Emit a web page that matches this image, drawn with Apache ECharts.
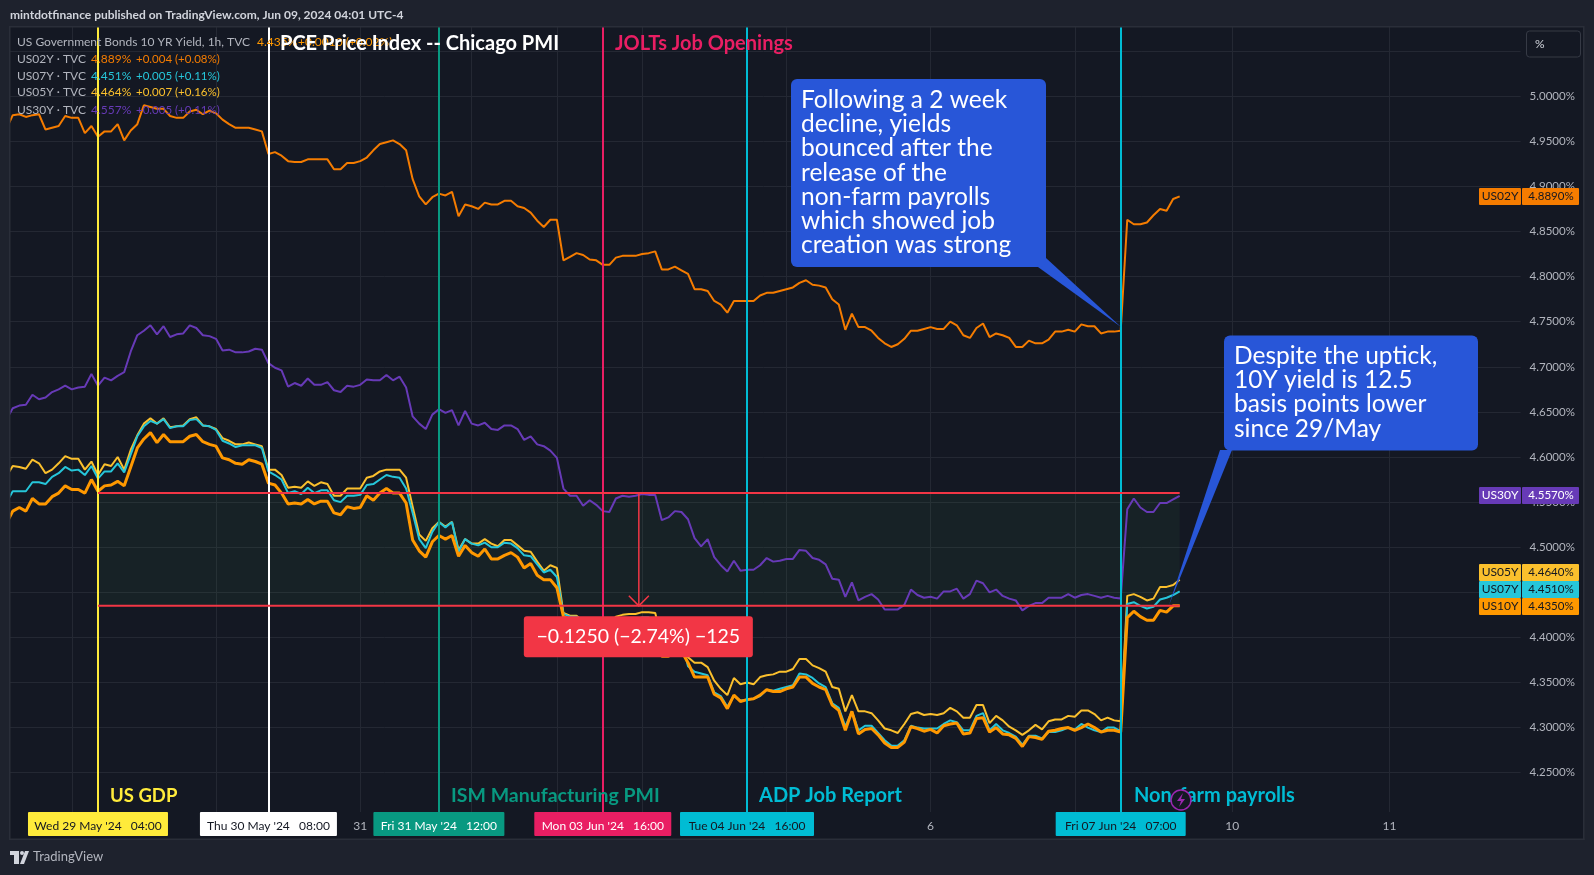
<!DOCTYPE html>
<html>
<head>
<meta charset="utf-8">
<title>US yields</title>
<script src="https://cdn.jsdelivr.net/npm/echarts@6/dist/echarts.min.js"></script>
<style>
  html, body { margin: 0; padding: 0; background: #1e222d; }
  #chart { width: 1594px; height: 875px; }
</style>
</head>
<body>
<div id="chart"></div>
<script>
// hourly closes, one value per bar
const us02y = [
  4.963,4.979,4.980,4.977,4.979,4.980,4.963,4.965,4.967,4.978,
  4.976,4.976,4.959,4.967,4.955,4.961,4.961,4.969,4.951,4.962,
  4.969,4.990,4.988,4.986,4.986,4.978,4.976,4.976,4.983,4.985,
  4.980,4.984,4.981,4.974,4.969,4.965,4.965,4.965,4.963,4.961,
  4.936,4.938,4.934,4.928,4.927,4.927,4.930,4.930,4.930,4.930,
  4.919,4.919,4.926,4.926,4.928,4.932,4.940,4.947,4.949,4.951,
  4.947,4.940,4.908,4.889,4.880,4.888,4.892,4.890,4.894,4.867,
  4.880,4.878,4.875,4.882,4.880,4.880,4.884,4.884,4.878,4.876,
  4.871,4.862,4.855,4.863,4.863,4.818,4.822,4.826,4.824,4.819,
  4.818,4.813,4.813,4.821,4.823,4.823,4.823,4.825,4.826,4.828,
  4.808,4.808,4.811,4.807,4.803,4.786,4.786,4.784,4.773,4.769,
  4.760,4.773,4.773,4.773,4.773,4.779,4.782,4.782,4.784,4.786,
  4.788,4.793,4.796,4.791,4.790,4.788,4.775,4.769,4.741,4.759,
  4.744,4.744,4.740,4.732,4.726,4.722,4.725,4.731,4.740,4.740,
  4.742,4.744,4.742,4.742,4.750,4.746,4.735,4.732,4.743,4.748,
  4.733,4.737,4.735,4.732,4.722,4.722,4.729,4.726,4.726,4.730,
  4.739,4.739,4.741,4.739,4.747,4.745,4.745,4.737,4.739,4.739,
  4.740,4.863,4.858,4.858,4.860,4.868,4.875,4.873,4.886,4.889
];
const us30y = [
  4.641,4.654,4.657,4.658,4.669,4.664,4.666,4.672,4.675,4.679,
  4.675,4.677,4.678,4.692,4.679,4.688,4.685,4.690,4.694,4.717,
  4.735,4.740,4.746,4.736,4.745,4.733,4.736,4.737,4.746,4.743,
  4.735,4.734,4.731,4.718,4.719,4.716,4.716,4.717,4.720,4.719,
  4.704,4.699,4.696,4.678,4.682,4.679,4.687,4.680,4.680,4.683,
  4.674,4.672,4.679,4.678,4.680,4.686,4.685,4.685,4.691,4.685,
  4.689,4.677,4.645,4.637,4.631,4.647,4.653,4.649,4.652,4.635,
  4.651,4.637,4.635,4.638,4.631,4.630,4.635,4.635,4.631,4.619,
  4.623,4.614,4.612,4.607,4.599,4.565,4.557,4.557,4.546,4.552,
  4.547,4.540,4.539,4.554,4.557,4.556,4.557,4.559,4.558,4.558,
  4.530,4.533,4.540,4.539,4.531,4.510,4.501,4.509,4.489,4.480,
  4.473,4.485,4.474,4.475,4.475,4.480,4.488,4.484,4.485,4.487,
  4.487,4.497,4.496,4.488,4.486,4.481,4.465,4.464,4.445,4.461,
  4.441,4.445,4.448,4.442,4.431,4.431,4.431,4.436,4.453,4.447,
  4.444,4.445,4.443,4.451,4.451,4.454,4.443,4.448,4.463,4.460,
  4.450,4.453,4.446,4.443,4.441,4.430,4.435,4.438,4.438,4.444,
  4.444,4.444,4.448,4.444,4.447,4.448,4.446,4.444,4.446,4.444,
  4.443,4.542,4.554,4.544,4.539,4.539,4.549,4.549,4.553,4.557
];
const us05y = [
  4.578,4.590,4.589,4.587,4.597,4.593,4.582,4.586,4.593,4.601,
  4.598,4.598,4.586,4.595,4.580,4.592,4.590,4.600,4.586,4.608,
  4.624,4.637,4.643,4.637,4.643,4.633,4.634,4.635,4.642,4.644,
  4.635,4.634,4.631,4.621,4.618,4.614,4.614,4.616,4.614,4.612,
  4.586,4.586,4.580,4.566,4.567,4.566,4.573,4.568,4.572,4.570,
  4.557,4.557,4.565,4.565,4.565,4.577,4.579,4.584,4.586,4.586,
  4.586,4.577,4.545,4.514,4.507,4.521,4.528,4.523,4.528,4.497,
  4.509,4.504,4.504,4.509,4.504,4.501,4.508,4.508,4.502,4.496,
  4.495,4.484,4.474,4.480,4.477,4.427,4.424,4.424,4.418,4.416,
  4.416,4.413,4.414,4.423,4.425,4.426,4.426,4.428,4.428,4.427,
  4.398,4.400,4.407,4.405,4.378,4.372,4.372,4.367,4.352,4.343,
  4.336,4.355,4.348,4.350,4.348,4.356,4.358,4.359,4.362,4.362,
  4.365,4.376,4.376,4.369,4.366,4.362,4.345,4.343,4.318,4.336,
  4.318,4.318,4.316,4.308,4.299,4.297,4.294,4.304,4.315,4.317,
  4.314,4.315,4.314,4.316,4.322,4.318,4.311,4.311,4.325,4.325,
  4.305,4.313,4.308,4.301,4.297,4.292,4.297,4.303,4.298,4.307,
  4.309,4.309,4.313,4.312,4.319,4.319,4.315,4.308,4.311,4.308,
  4.307,4.446,4.448,4.445,4.441,4.443,4.456,4.456,4.458,4.464
];
const us07y = [
  4.549,4.562,4.562,4.562,4.572,4.572,4.570,4.578,4.582,4.589,
  4.585,4.586,4.580,4.590,4.576,4.584,4.584,4.593,4.583,4.603,
  4.623,4.634,4.640,4.637,4.642,4.632,4.634,4.634,4.641,4.642,
  4.635,4.634,4.630,4.618,4.615,4.611,4.613,4.613,4.613,4.610,
  4.584,4.580,4.575,4.560,4.562,4.559,4.566,4.560,4.563,4.563,
  4.552,4.550,4.557,4.557,4.558,4.569,4.570,4.575,4.580,4.578,
  4.577,4.565,4.538,4.509,4.499,4.517,4.528,4.522,4.528,4.495,
  4.509,4.504,4.502,4.505,4.500,4.500,4.505,4.504,4.499,4.491,
  4.490,4.481,4.472,4.475,4.467,4.426,4.423,4.423,4.414,4.412,
  4.412,4.410,4.411,4.417,4.419,4.420,4.420,4.422,4.422,4.419,
  4.392,4.394,4.400,4.398,4.368,4.362,4.360,4.358,4.339,4.335,
  4.323,4.335,4.330,4.331,4.332,4.335,4.342,4.341,4.343,4.345,
  4.347,4.360,4.359,4.355,4.349,4.345,4.327,4.322,4.301,4.318,
  4.297,4.302,4.302,4.294,4.286,4.280,4.280,4.286,4.302,4.300,
  4.299,4.299,4.299,4.304,4.308,4.306,4.297,4.297,4.313,4.316,
  4.297,4.304,4.297,4.294,4.290,4.281,4.291,4.291,4.288,4.295,
  4.295,4.297,4.300,4.298,4.304,4.300,4.297,4.295,4.300,4.300,
  4.296,4.437,4.439,4.435,4.432,4.434,4.442,4.444,4.447,4.451
];
const us10y = [
  4.526,4.540,4.544,4.540,4.554,4.548,4.548,4.556,4.560,4.568,
  4.564,4.564,4.560,4.575,4.562,4.568,4.569,4.573,4.568,4.589,
  4.610,4.620,4.627,4.616,4.625,4.617,4.617,4.617,4.623,4.625,
  4.617,4.614,4.612,4.599,4.597,4.593,4.592,4.597,4.595,4.592,
  4.571,4.569,4.560,4.548,4.549,4.548,4.553,4.548,4.551,4.551,
  4.538,4.536,4.545,4.543,4.544,4.557,4.552,4.560,4.565,4.560,
  4.560,4.549,4.508,4.496,4.489,4.506,4.513,4.509,4.513,4.490,
  4.502,4.494,4.490,4.498,4.487,4.487,4.491,4.494,4.489,4.477,
  4.482,4.469,4.464,4.464,4.455,4.423,4.420,4.418,4.408,4.405,
  4.405,4.402,4.403,4.406,4.408,4.410,4.409,4.411,4.411,4.408,
  4.379,4.379,4.385,4.385,4.372,4.356,4.356,4.356,4.337,4.333,
  4.321,4.336,4.329,4.331,4.332,4.336,4.342,4.340,4.340,4.343,
  4.345,4.356,4.356,4.349,4.345,4.342,4.325,4.319,4.297,4.318,
  4.293,4.298,4.299,4.292,4.283,4.278,4.278,4.284,4.301,4.299,
  4.296,4.298,4.294,4.302,4.304,4.305,4.293,4.294,4.310,4.311,
  4.295,4.300,4.293,4.292,4.288,4.279,4.290,4.289,4.287,4.296,
  4.297,4.299,4.300,4.297,4.300,4.304,4.300,4.295,4.297,4.297,
  4.295,4.422,4.429,4.423,4.419,4.419,4.430,4.428,4.435,4.435
];

// time axis: day ticks sit on these bars
const dayTickBars = [10, 32, 54, 71, 84, 97, 119, 141, 163, 187, 211];
const dayTickLabels = ['29', '30', '31', '', 'Jun', '4', '5', '6', '7', '10', '11'];

// news events
const eventBars = [14, 40, 66, 91, 113, 170];
const eventDates = ["Wed 29 May '24   04:00", "Thu 30 May '24   08:00", "Fri 31 May '24   12:00",
                    "Mon 03 Jun '24   16:00", "Tue 04 Jun '24   16:00", "Fri 07 Jun '24   07:00"];
const eventColors = ['#ffeb3b', '#ffffff', '#089981', '#e91e63', '#00bcd4', '#00bcd4'];
const eventTextColors = ['#131722', '#131722', '#ffffff', '#ffffff', '#131722', '#131722'];
const eventTagWidths = [140, 137, 131, 137, 134, 130];

// date range measure on the 10Y
const measureFrom = 14, measureTo = 179, measureHigh = 4.56, measureLow = 4.435;

const barCount = 232;
const categories = Array.from({ length: barCount }, (_, i) => String(i));

const FONT = 'Lato, "Open Sans", sans-serif';
const PLOT_BG = '#141823';
const PAGE_BG = '#1e222d';
const GRID = '#242833';
const RED = '#f23645';
const BLUE = '#2856d8';

function lineSeries(name, data, color, width, z) {
  return {
    name: name, type: 'line', data: data, z: z,
    showSymbol: false, silent: true,
    lineStyle: { color: color, width: width }
  };
}

const chart = echarts.init(document.getElementById('chart'), null, { renderer: 'canvas' });

const option = {
  animation: false,
  backgroundColor: PLOT_BG,
  textStyle: { fontFamily: FONT },
  grid: { left: 6.2, top: 6, width: 1514.4, height: 811.8, containLabel: false },
  xAxis: [
    {
      // split lines only
      type: 'category', data: categories, boundaryGap: false,
      axisLine: { show: false }, axisTick: { show: false }, axisLabel: { show: false },
      splitLine: {
        show: true,
        interval: idx => dayTickBars.includes(idx),
        lineStyle: { color: GRID, width: 1 }
      }
    },
    {
      // day labels, raised above the time band
      type: 'category', data: categories, boundaryGap: false, position: 'bottom', z: 25,
      axisLine: { show: false }, axisTick: { show: false }, splitLine: { show: false },
      axisLabel: {
        interval: idx => dayTickBars.includes(idx),
        formatter: (val, idx) => dayTickLabels[dayTickBars.indexOf(idx)] || '',
        color: '#b2b5be', fontSize: 12, margin: 2, fontFamily: FONT
      }
    }
  ],
  yAxis: {
    type: 'value', position: 'right', min: 4.2, max: 5.1, interval: 0.05,
    axisLine: { show: false }, axisTick: { show: false },
    splitLine: { lineStyle: { color: GRID, width: 1 } },
    axisLabel: {
      color: '#b2b5be', fontSize: 11.5, margin: 9, fontFamily: FONT,
      formatter: v => (v > 5.01 || v < 4.24) ? '' : v.toFixed(4) + '%'
    }
  },
  series: [
    {
      // shaded range of the measure
      type: 'custom', z: 1, silent: true, clip: true,
      encode: { x: [0, 1], y: [2, 3] },
      data: [[measureFrom, measureTo, measureHigh, measureLow]],
      renderItem: (params, api) => {
        const a = api.coord([api.value(0), api.value(2)]);
        const b = api.coord([api.value(1), api.value(3)]);
        return { type: 'rect', shape: { x: a[0], y: a[1], width: b[0] - a[0], height: b[1] - a[1] },
                 style: { fill: 'rgba(76,175,80,0.07)' } };
      }
    },
    lineSeries('US02Y', us02y, '#f57c00', 2, 2),
    lineSeries('US30Y', us30y, '#673ab7', 2, 2),
    lineSeries('US05Y', us05y, '#fbc02d', 2, 2),
    lineSeries('US07Y', us07y, '#26c6da', 2, 2),
    lineSeries('US10Y', us10y, '#ff9800', 3, 2),
    {
      // event lines
      name: 'events', type: 'line', data: [], z: 3,
      markLine: {
        silent: true, animation: false, symbol: 'none', label: { show: false },
        data: eventBars.map((bar, i) => ({ xAxis: bar, lineStyle: { color: eventColors[i], width: 2, type: 'solid', opacity: 1 } }))
      }
    },
    {
      // measure lines, arrow and its value box
      type: 'custom', z: 5, silent: true, clip: false,
      encode: { x: [0, 1], y: [2, 3] },
      data: [[measureFrom, measureTo, measureHigh, measureLow]],
      renderItem: (params, api) => {
        const a = api.coord([api.value(0), api.value(2)]);
        const b = api.coord([api.value(1), api.value(3)]);
        const mid = (a[0] + b[0]) / 2;
        const red = { stroke: RED, lineWidth: 2, fill: null };
        const thin = { stroke: RED, lineWidth: 1.5, fill: null };
        return {
          type: 'group',
          children: [
            { type: 'line', shape: { x1: a[0], y1: a[1], x2: b[0], y2: a[1] }, style: red },
            { type: 'line', shape: { x1: a[0], y1: b[1], x2: b[0], y2: b[1] }, style: red },
            { type: 'line', shape: { x1: mid, y1: a[1], x2: mid, y2: b[1] }, style: thin },
            { type: 'polyline', shape: { points: [[mid - 10, b[1] - 10], [mid, b[1]], [mid + 10, b[1] - 10]] }, style: thin },
            { type: 'rect', shape: { x: mid - 115, y: b[1] + 10.5, width: 229, height: 41, r: 3 }, style: { fill: RED } },
            { type: 'text', x: mid - 0.5, y: b[1] + 31,
              style: { text: '\u22120.1250 (\u22122.74%) \u2212125', fill: '#fff', fontSize: 19.5, fontFamily: FONT, align: 'center', verticalAlign: 'middle' } }
          ]
        };
      }
    }
  ]
};
chart.setOption(option);

// everything printed on top of the plot
const g = [];
function rect(x, y, w, h, fill, z, r) {
  g.push({ type: 'rect', z: z, silent: true, shape: { x: x, y: y, width: w, height: h, r: r || 0 }, style: { fill: fill } });
}
function text(str, x, y, color, size, z, extra) {
  g.push({ type: 'text', z: z, silent: true, x: x, y: y,
    style: Object.assign({ text: str, fill: color, fontSize: size, fontFamily: FONT, verticalAlign: 'middle' }, extra || {}) });
}

// frame around the plot
rect(0, 0, 1594, 27, PAGE_BG, 20);
rect(0, 839, 1594, 36, PAGE_BG, 20);
rect(0, 0, 10, 875, PAGE_BG, 20);
rect(1584, 0, 10, 875, PAGE_BG, 20);
rect(10, 812, 1574, 27, PLOT_BG, 20);
rect(10, 26, 1574, 1.5, '#2a2e39', 21);
rect(9, 26, 1.5, 814, '#2a2e39', 21);
rect(1583, 26, 1.5, 814, '#2a2e39', 21);
rect(9, 838.5, 1575.5, 1.5, '#2a2e39', 21);

text('mintdotfinance published on TradingView.com, Jun 09, 2024 04:01 UTC-4', 10, 15, '#d1d4dc', 12, 22, { fontWeight: 'bold' });

// footer logo
g.push({ type: 'polygon', z: 22, silent: true, shape: { points: [[10, 851], [19, 851], [19, 864], [14, 864], [14, 855], [10, 855]] }, style: { fill: '#d1d4dc' } });
g.push({ type: 'circle', z: 22, silent: true, shape: { cx: 22, cy: 853, r: 2 }, style: { fill: '#d1d4dc' } });
g.push({ type: 'polygon', z: 22, silent: true, shape: { points: [[25, 851], [29, 851], [24, 864], [20, 864]] }, style: { fill: '#d1d4dc' } });
text('TradingView', 33, 857, '#b2b5be', 13, 22);

// legend block
const LG = '#b2b5be';
text('US Government Bonds 10 YR Yield, 1h, TVC', 17, 42, LG, 12, 23);
text('4.435%', 257, 42, '#ff9800', 12, 23);
text('+0.0010 (+0.02%)', 298, 42, '#ff9800', 12, 23);
[['US02Y \u00b7 TVC', '4.889%', '+0.004 (+0.08%)', '#f57c00', 59],
 ['US07Y \u00b7 TVC', '4.451%', '+0.005 (+0.11%)', '#26c6da', 76],
 ['US05Y \u00b7 TVC', '4.464%', '+0.007 (+0.16%)', '#fbc02d', 92.5],
 ['US30Y \u00b7 TVC', '4.557%', '+0.005 (+0.11%)', '#673ab7', 110]].forEach(r => {
  text(r[0], 17, r[4], LG, 12, 23);
  text(r[1], 91, r[4], r[3], 12, 23);
  text(r[2], 136, r[4], r[3], 11.5, 23);
});

// event titles
const titleStyle = { fontWeight: 'bold' };
text('PCE Price Index -- Chicago PMI', 280, 44, '#ffffff', 20, 24, titleStyle);
text('JOLTs Job Openings', 615, 44, '#e91e63', 20, 24, titleStyle);
text('US GDP', 110, 796, '#ffeb3b', 18.5, 24, titleStyle);
text('ISM Manufacturing PMI', 451, 796, '#089981', 19.5, 24, titleStyle);
text('ADP Job Report', 759, 796, '#00bcd4', 20, 24, titleStyle);
text('Non-farm payrolls', 1134, 796, '#00bcd4', 20, 24, titleStyle);

// lightning mark on the time axis
g.push({ type: 'circle', z: 25, silent: true, shape: { cx: 1181, cy: 800, r: 10 }, style: { fill: PLOT_BG, stroke: '#9c27b0', lineWidth: 1.5 } });
g.push({ type: 'polygon', z: 25, silent: true, shape: { points: [[1183, 793], [1177, 801], [1181, 801], [1179, 807], [1185, 799], [1181, 799]] }, style: { fill: '#9c27b0' } });

// date tags under the event lines
eventBars.forEach((bar, i) => {
  const cx = chart.convertToPixel({ xAxisIndex: 0 }, bar);
  const w = eventTagWidths[i];
  rect(cx - w / 2, 812, w, 24, eventColors[i], 26, 1);
  text(eventDates[i], cx, 826, eventTextColors[i], 12, 27, { align: 'center' });
});

// % button
g.push({ type: 'rect', z: 22, silent: true, shape: { x: 1526.5, y: 31, width: 54, height: 26, r: 3 }, style: { fill: PLOT_BG, stroke: '#363a45', lineWidth: 1 } });
text('%', 1535, 44, '#d1d4dc', 12, 23);

// price tags on the right scale
[['US02Y', '4.8890%', '#f57c00', '#131722', 188],
 ['US30Y', '4.5570%', '#673ab7', '#ffffff', 487],
 ['US05Y', '4.4640%', '#fbc02d', '#131722', 564],
 ['US07Y', '4.4510%', '#26c6da', '#131722', 581],
 ['US10Y', '4.4350%', '#ff9800', '#131722', 598]].forEach(t => {
  rect(1479, t[4], 42, 17, t[2], 26, 1);
  rect(1522, t[4], 57, 17, t[2], 26, 1);
  text(t[0], 1500, t[4] + 8.5, t[3], 12, 27, { align: 'center' });
  text(t[1], 1551, t[4] + 8.5, t[3], 11.5, 27, { align: 'center' });
});

// callouts
function callout(x, y, w, h, tail, lines, lineX, firstY) {
  g.push({ type: 'polygon', z: 28, silent: true, shape: { points: tail }, style: { fill: BLUE } });
  rect(x, y, w, h, BLUE, 28, 6);
  lines.forEach((s, i) => text(s, lineX, firstY + i * 24.2, '#ffffff', 24.5, 29));
}
callout(791, 79, 255, 188, [[1038, 267], [1046, 258], [1121, 327]],
  ['Following a 2 week', 'decline, yields', 'bounced after the', 'release of the', 'non-farm payrolls', 'which showed job', 'creation was strong'], 801, 100);
callout(1224, 335.5, 254, 115, [[1220, 450], [1232, 450], [1169, 605]],
  ['Despite the uptick,', '10Y yield is 12.5', 'basis points lower', 'since 29/May'], 1234, 356);

chart.setOption({ graphic: { elements: g } });
</script>
</body>
</html>
